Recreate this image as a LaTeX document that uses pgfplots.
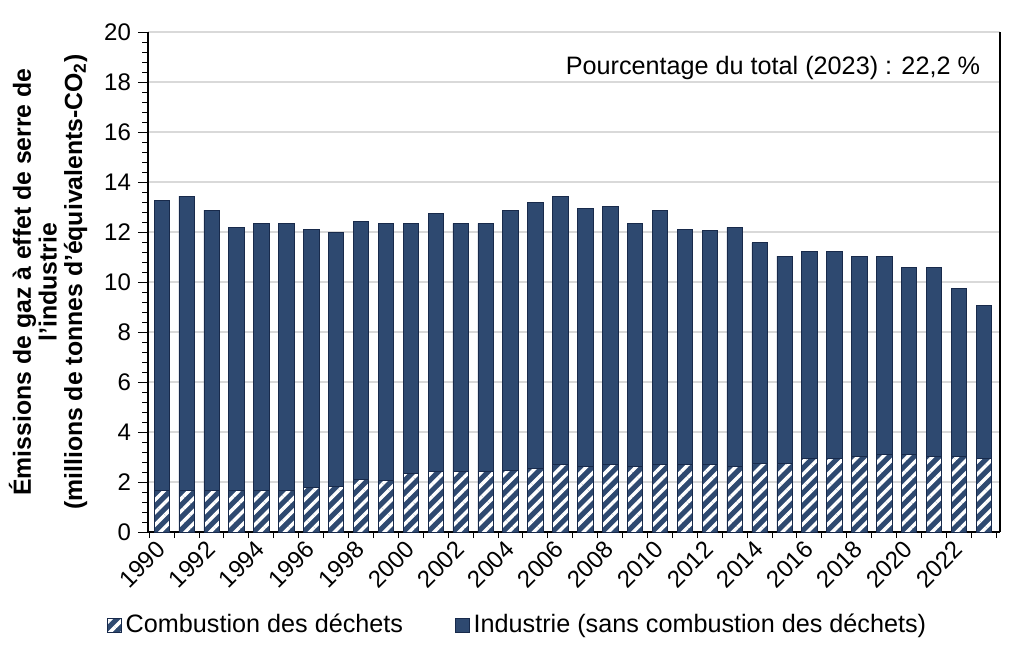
\documentclass[border=0pt]{standalone}
\usepackage{fontspec}
\setmainfont{Liberation Sans}
\usepackage{pgfplots}
\usepackage{pgfplotstable}
\pgfplotsset{compat=1.18}
\usetikzlibrary{patterns.meta}

\definecolor{barblue}{RGB}{46,73,112}
\definecolor{edgeblue}{RGB}{24,42,75}

% year, combustion des dechets, industrie hors combustion (Mt CO2e)
\pgfplotstableread{
year comb ind
1990 1.68 11.57
1991 1.68 11.76
1992 1.68 11.20
1993 1.68 10.51
1994 1.68 10.67
1995 1.68 10.67
1996 1.79 10.33
1997 1.84 10.13
1998 2.12 10.29
1999 2.08 10.27
2000 2.35 10.00
2001 2.44 10.31
2002 2.41 9.94
2003 2.41 9.94
2004 2.48 10.40
2005 2.55 10.62
2006 2.71 10.73
2007 2.61 10.35
2008 2.71 10.32
2009 2.63 9.70
2010 2.71 10.17
2011 2.71 9.41
2012 2.71 9.34
2013 2.63 9.56
2014 2.75 8.82
2015 2.75 8.29
2016 2.95 8.26
2017 2.95 8.26
2018 3.04 8.00
2019 3.11 7.93
2020 3.11 7.48
2021 3.01 7.58
2022 3.01 6.74
2023 2.95 6.10
}\datatable

\begin{document}
\begin{tikzpicture}
\begin{axis}[
  scale only axis, width=426pt, height=250pt,
  ybar stacked, bar width=7.7pt,
  xmin=1989.45, xmax=2023.65, ymin=0, ymax=20,
  ytick={0,2,...,20}, minor y tick num=4,
  xtick={1990,1992,...,2022},
  minor xtick={1989.5,1990.5,...,2023.5},
  major x tick style={draw=none},
  tick align=outside,
  major tick length=5pt, minor tick length=3pt,
  ymajorgrids, grid style={gray!30, line width=0.6pt},
  axis y line*=left, axis x line*=bottom,
  axis line style={black, line width=0.6pt},
  tick style={black, line width=0.5pt},
  /pgf/number format/assume math mode=true,
  tick label style={font=\fontsize{12}{14}\selectfont},
  x tick label style={/pgf/number format/1000 sep={}, rotate=45, anchor=east, xshift=2pt, yshift=-1pt},
  ylabel={Émissions  de gaz à effet de serre de\\l'industrie\\(millions de tonnes d'équivalents-CO\textsubscript{2})},
  ylabel style={at={(axis description cs:-0.063,0.5)}, anchor=south, align=center,
    font=\bfseries\fontsize{12.4}{12.8}\selectfont},
  legend style={at={(axis description cs:0.435,-0.186)}, anchor=center,
    legend columns=2, draw=none, font=\fontsize{12.6}{14}\selectfont,
    /tikz/every even column/.append style={column sep=24pt}},
  every axis plot post/.append style={
    legend image code/.code={\draw[##1, line width=0.3pt] (0pt,-3.5pt) rectangle (7pt,3.5pt);}},
  after end axis/.code={
    \draw[black, line width=0.6pt] (rel axis cs:1,0) -- (rel axis cs:1,1);
    \path (rel axis cs:0,1) ++(-74pt,16pt);
    \path (rel axis cs:1,0) ++(12pt,-61.5pt);
  },
]
\addplot[fill=barblue, draw=edgeblue, line width=0.3pt,
  postaction={pattern={Lines[angle=45,distance=4.4pt,line width=1.7pt]}, pattern color=white}]
  table[x=year, y=comb] {\datatable};
\addplot[fill=barblue, draw=edgeblue, line width=0.3pt]
  table[x=year, y=ind] {\datatable};
\legend{Combustion des déchets, Industrie (sans combustion des déchets)}
\node[anchor=east, inner sep=0pt, font=\fontsize{12.6}{14}\selectfont] at (axis description cs:0.977,0.928)
  {Pourcentage du total (2023) : 22,2 \%};
\end{axis}
\end{tikzpicture}
\end{document}
